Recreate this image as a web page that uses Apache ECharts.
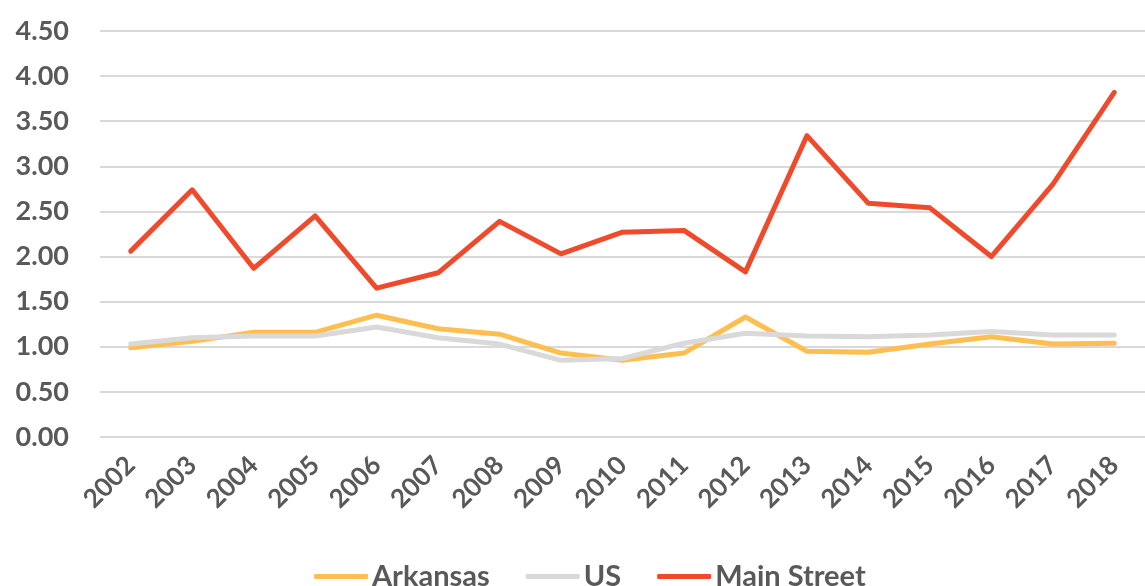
<!DOCTYPE html>
<html>
<head>
<meta charset="utf-8">
<script src="https://cdn.jsdelivr.net/npm/echarts@6/dist/echarts.min.js"></script>
<style>
  html, body { margin: 0; padding: 0; background: #ffffff; }
  #chart { width: 1145px; height: 586px; }
</style>
</head>
<body>
<div id="chart"></div>
<script>
// Years on the category axis
var years = ['2002','2003','2004','2005','2006','2007','2008','2009','2010',
             '2011','2012','2013','2014','2015','2016','2017','2018'];

// Series values per year
var arkansas   = [0.99, 1.06, 1.16, 1.16, 1.35, 1.20, 1.14, 0.93, 0.85,
                  0.93, 1.33, 0.95, 0.94, 1.03, 1.11, 1.03, 1.04];
var us         = [1.03, 1.10, 1.12, 1.12, 1.22, 1.10, 1.03, 0.85, 0.87,
                  1.04, 1.15, 1.12, 1.11, 1.13, 1.17, 1.13, 1.13];
var mainStreet = [2.06, 2.74, 1.87, 2.45, 1.65, 1.82, 2.39, 2.03, 2.27,
                  2.29, 1.83, 3.34, 2.59, 2.54, 2.00, 2.80, 3.82];

// Value axis range and step
var yMin = 0, yMax = 4.5, yStep = 0.5;

var textColor = '#595959';
var fontFamily = 'Lato, "Open Sans", sans-serif';

function lineSeries(name, data, color) {
  return {
    name: name,
    type: 'line',
    data: data,
    symbol: 'none',
    smooth: false,
    lineStyle: { color: color, width: 5, cap: 'round', join: 'round' },
    itemStyle: { color: color }
  };
}

var chart = echarts.init(document.getElementById('chart'), null, { renderer: 'canvas' });
chart.setOption({
  animation: false,
  backgroundColor: '#ffffff',
  textStyle: { fontFamily: fontFamily },
  grid: { left: 100, right: -13, top: 31, bottom: 149, containLabel: false },
  xAxis: {
    type: 'category',
    data: years,
    boundaryGap: true,
    axisLine: { show: false },
    axisTick: { show: false },
    axisLabel: {
      rotate: 45,
      margin: 24,
      color: textColor,
      fontSize: 26,
      fontWeight: 'bold',
      fontFamily: fontFamily
    }
  },
  yAxis: {
    type: 'value',
    min: yMin,
    max: yMax,
    interval: yStep,
    axisLine: { show: false },
    axisTick: { show: false },
    splitLine: { lineStyle: { color: '#d9d9d9', width: 2 } },
    axisLabel: {
      margin: 31,
      color: textColor,
      fontSize: 27,
      fontWeight: 'bold',
      fontFamily: fontFamily,
      formatter: function (v) { return v.toFixed(2); }
    }
  },
  legend: {
    left: 309,
    top: 557,
    itemWidth: 54,
    itemHeight: 5,
    itemGap: 36,
    icon: 'roundRect',
    textStyle: {
      color: textColor,
      fontSize: 29,
      fontWeight: 'bold',
      fontFamily: fontFamily,
      padding: [0, 0, 0, -1]
    },
    data: ['Arkansas', 'US', 'Main Street']
  },
  series: [
    lineSeries('Arkansas', arkansas, '#ffbe50'),
    lineSeries('US', us, '#d9d9d9'),
    lineSeries('Main Street', mainStreet, '#f04a2c')
  ]
});
</script>
</body>
</html>
